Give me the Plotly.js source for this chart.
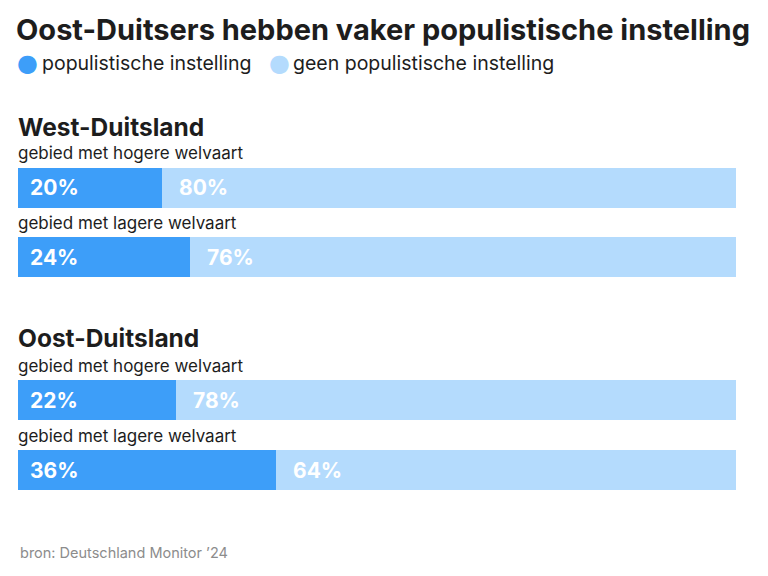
<!DOCTYPE html>
<html>
<head>
<meta charset="utf-8">
<script src="https://cdn.plot.ly/plotly-3.0.1.min.js"></script>
<style>
  html, body { margin: 0; padding: 0; background: #ffffff; }
  #chart { width: 768px; height: 576px; }
</style>
</head>
<body>
<div id="chart"></div>
<script>
// Aandeel met populistische instelling per regio (procent)
const regions = ["West-Duitsland", "Oost-Duitsland"];
const areas = ["gebied met hogere welvaart", "gebied met lagere welvaart"];
const populistWest = [20, 24];
const populistEast = [22, 36];
const nonPopulistWest = [80, 76];
const nonPopulistEast = [78, 64];
const seriesNames = ["populistische instelling", "geen populistische instelling"];
const seriesColors = ["#3d9ef9", "#b4dbfd"];
const titleText = "Oost-Duitsers hebben vaker populistische instelling";
const sourceText = "bron: Deutschland Monitor \u201924";

const FONT = "Inter, 'Open Sans', sans-serif";
const INK = "#1d1d1d";
const LEFT = 16 / 768;

const groups = [
  { name: regions[0], pop: populistWest, rest: nonPopulistWest, y: "y", yref: "y" },
  { name: regions[1], pop: populistEast, rest: nonPopulistEast, y: "y2", yref: "y2" }
];

const traces = [];
const annotations = [];

groups.forEach(g => {
  traces.push({
    type: "bar", orientation: "h", name: seriesNames[0],
    y: areas, x: g.pop, xaxis: "x", yaxis: g.y,
    marker: { color: seriesColors[0], line: { width: 0 } },
    hoverinfo: "skip", showlegend: false
  });
  traces.push({
    type: "bar", orientation: "h", name: seriesNames[1],
    y: areas, x: g.rest, xaxis: "x", yaxis: g.y,
    marker: { color: seriesColors[1], line: { width: 0 } },
    hoverinfo: "skip", showlegend: false
  });

  areas.forEach((a, i) => {
    // label above each bar
    annotations.push({
      xref: "paper", yref: g.yref, x: LEFT, y: a,
      xanchor: "left", yanchor: "middle", yshift: 34.5,
      text: a, showarrow: false,
      font: { family: FONT, size: 17, color: INK }
    });
    // value labels at the start of each segment
    annotations.push({
      xref: "x", yref: g.yref, x: 0, y: a,
      xanchor: "left", yanchor: "middle", xshift: 10,
      text: g.pop[i] + "%", showarrow: false,
      font: { family: FONT, size: 21, color: "#ffffff", weight: 700 }
    });
    annotations.push({
      xref: "x", yref: g.yref, x: g.pop[i], y: a,
      xanchor: "left", yanchor: "middle", xshift: 15,
      text: g.rest[i] + "%", showarrow: false,
      font: { family: FONT, size: 21, color: "#ffffff", weight: 700 }
    });
  });
});

// group headings
[127, 338].forEach((py, i) => {
  annotations.push({
    xref: "paper", yref: "paper", x: LEFT, y: 1 - py / 576,
    xanchor: "left", yanchor: "middle", text: regions[i], showarrow: false,
    font: { family: FONT, size: 24.5, color: INK, weight: 700 }
  });
});

// legend row: dot + text
const legendDotX = [27, 279];
const legendTextX = [40, 291];
seriesNames.forEach((n, i) => {
  annotations.push({
    xref: "paper", yref: "paper", x: legendDotX[i] / 768, y: 1 - 63 / 576,
    xanchor: "center", yanchor: "middle", showarrow: false,
    text: "\u25CF", font: { family: "DejaVu Sans", size: 24, color: seriesColors[i] }
  });
  annotations.push({
    xref: "paper", yref: "paper", x: legendTextX[i] / 768, y: 1 - 63 / 576,
    xanchor: "left", yanchor: "middle", showarrow: false,
    text: n, font: { family: FONT, size: 19.5, color: INK }
  });
});

// source line
annotations.push({
  xref: "paper", yref: "paper", x: 18 / 768, y: 1 - 552 / 576,
  xanchor: "left", yanchor: "middle", text: sourceText, showarrow: false,
  font: { family: FONT, size: 14.5, color: "#8c8c8c" }
});

const yCommon = {
  type: "category", range: [1.5, -0.5], autorange: false, showgrid: false, zeroline: false,
  showticklabels: false, ticks: "", showline: false, fixedrange: true
};

const layout = {
  width: 768, height: 576,
  margin: { l: 0, r: 0, t: 0, b: 0, pad: 0 },
  paper_bgcolor: "#ffffff", plot_bgcolor: "#ffffff",
  barmode: "stack", bargap: 0.4245,
  showlegend: false,
  title: {
    text: "<b>" + titleText + "</b>",
    x: LEFT, xanchor: "left", xref: "paper",
    y: 1 - 30 / 576, yanchor: "middle", yref: "container",
    font: { family: FONT, size: 29, color: INK }
  },
  xaxis: {
    domain: [18 / 768, 736 / 768], range: [0, 100], autorange: false,
    showgrid: false, zeroline: false, showticklabels: false, ticks: "", showline: false, fixedrange: true
  },
  yaxis: Object.assign({}, yCommon, { domain: [1 - 291.75 / 576, 1 - 152.75 / 576] }),
  yaxis2: Object.assign({}, yCommon, { domain: [1 - 505 / 576, 1 - 365 / 576], anchor: "x" }),
  annotations: annotations
};

Plotly.newPlot("chart", traces, layout, { staticPlot: true, displayModeBar: false });
</script>
</body>
</html>
